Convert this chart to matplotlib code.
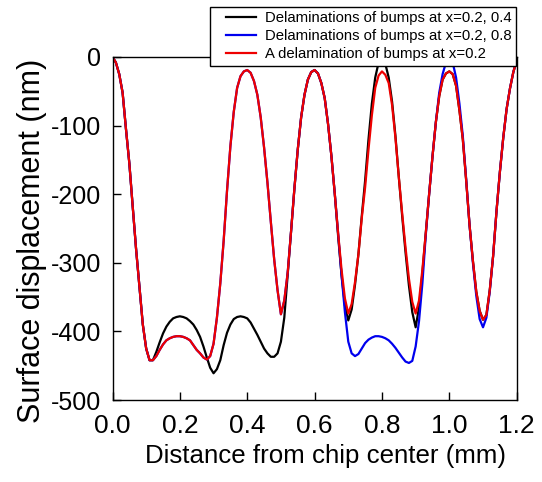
import numpy as np
import matplotlib
matplotlib.use("Agg")
import matplotlib.pyplot as plt
from matplotlib.legend_handler import HandlerLine2D
from matplotlib.lines import Line2D

plt.rcParams['font.family'] = ['Liberation Sans', 'DejaVu Sans']

# Distance from chip center (mm), sampled every 0.01 mm
distance = np.round(np.linspace(0.0, 1.2, 121), 2)

# A delamination of bumps at x=0.2 (red)
single_02 = [
    0, -8, -25, -52, -105, -155, -218, -280, -335, -390,
    -425, -442, -442, -436, -427, -419, -413, -410, -408, -407,
    -407, -408, -410, -413, -420, -427, -432, -438, -441, -436,
    -418, -380, -330, -268, -195, -130, -80, -45, -28, -21,
    -19, -23, -35, -55, -88, -132, -183, -240, -295, -340,
    -375, -355, -315, -255, -192, -135, -88, -55, -33, -22,
    -19, -24, -38, -60, -98, -145, -200, -258, -310, -352,
    -374, -360, -328, -288, -235, -190, -135, -85, -45, -27,
    -21, -26, -38, -70, -118, -175, -228, -278, -323, -357,
    -374, -355, -310, -257, -200, -145, -95, -57, -33, -24,
    -21, -25, -42, -78, -120, -180, -245, -297, -342, -370,
    -383, -376, -340, -290, -225, -168, -118, -76, -46, -22,
    -5,
]

# Delaminations of bumps at x=0.2, 0.4 (black)
double_02_04 = [
    0, -8, -25, -52, -105, -155, -218, -280, -335, -390,
    -425, -442, -442, -430, -416, -403, -393, -386, -381, -379,
    -378, -379, -381, -385, -390, -398, -408, -422, -438, -453,
    -461, -455, -442, -420, -402, -390, -382, -379, -378, -379,
    -381, -387, -396, -405, -415, -425, -432, -437, -437, -432,
    -415, -380, -318, -255, -192, -135, -88, -55, -33, -22,
    -19, -24, -38, -60, -98, -145, -200, -262, -318, -362,
    -384, -368, -332, -288, -232, -180, -120, -68, -30, -8,
    -2, -10, -30, -65, -115, -175, -232, -285, -333, -372,
    -394, -365, -315, -257, -200, -145, -95, -57, -33, -24,
    -21, -25, -42, -78, -120, -180, -245, -297, -342, -370,
    -383, -376, -340, -290, -225, -168, -118, -76, -46, -22,
    -5,
]

# Delaminations of bumps at x=0.2, 0.8 (blue)
double_02_08 = [
    0, -8, -25, -52, -105, -155, -218, -280, -335, -390,
    -425, -442, -442, -436, -427, -419, -413, -410, -408, -407,
    -407, -408, -410, -413, -420, -427, -432, -438, -441, -436,
    -418, -380, -330, -268, -195, -130, -80, -45, -28, -21,
    -19, -23, -35, -55, -88, -132, -183, -240, -295, -340,
    -375, -355, -315, -255, -192, -135, -88, -55, -33, -22,
    -19, -24, -38, -60, -98, -145, -200, -258, -318, -372,
    -415, -432, -436, -433, -425, -417, -412, -409, -407, -407,
    -408, -410, -413, -418, -424, -431, -438, -444, -446, -443,
    -422, -385, -330, -260, -200, -145, -95, -52, -25, -8,
    -2, -8, -30, -68, -115, -178, -245, -300, -348, -382,
    -394, -380, -342, -290, -225, -168, -118, -76, -46, -22,
    -5,
]

legend_labels = [
    "Delaminations of bumps at x=0.2, 0.4",
    "Delaminations of bumps at x=0.2, 0.8",
    "A delamination of bumps at x=0.2",
]
x_ticks = [0.0, 0.2, 0.4, 0.6, 0.8, 1.0, 1.2]
y_ticks = [0, -100, -200, -300, -400, -500]

fig = plt.figure(figsize=(5.42, 4.82), dpi=100)
ax = fig.add_axes([112.5 / 542, 1 - 400 / 482, (516.7 - 112.5) / 542, (400 - 57) / 482])

ax.plot(distance, double_02_04, color='black', lw=1.6, label=legend_labels[0])
ax.plot(distance, double_02_08, color='#0000ee', lw=1.6, label=legend_labels[1])
ax.plot(distance, single_02, color='#ee0000', lw=1.6, label=legend_labels[2])

ax.set_xlim(0.0, 1.2)
ax.set_ylim(-500, 0)
ax.set_xticks(x_ticks)
ax.set_xticklabels([f"{t:.1f}" for t in x_ticks])
ax.set_yticks(y_ticks)
ax.set_yticklabels([str(t) for t in y_ticks])
ax.tick_params(direction='in', length=6, width=1, top=False, right=False)
ax.tick_params(axis='x', labelsize=19, pad=10)
ax.tick_params(axis='y', labelsize=18, pad=8)
for s in ax.spines.values():
    s.set_linewidth(1.0)

ax.set_xlabel("Distance from chip center (mm)", fontsize=18.6)
ax.xaxis.set_label_coords(0.526, -0.128)
ax.set_ylabel("Surface displacement (nm)", fontsize=22)
ax.yaxis.set_label_coords(-0.162, 0.465)

leg = fig.legend(loc='upper right', bbox_to_anchor=(516 / 542, 1 - 7 / 482),
                 bbox_transform=fig.transFigure, fontsize=10.7, frameon=True,
                 fancybox=False, edgecolor='black', framealpha=1.0,
                 borderpad=0.3, labelspacing=0.27, handlelength=2.8,
                 handletextpad=0.6, borderaxespad=0,
                 handler_map={Line2D: HandlerLine2D(xpad=0.77)})
leg.get_frame().set_linewidth(1.0)

fig.savefig("out.png", dpi=100)
